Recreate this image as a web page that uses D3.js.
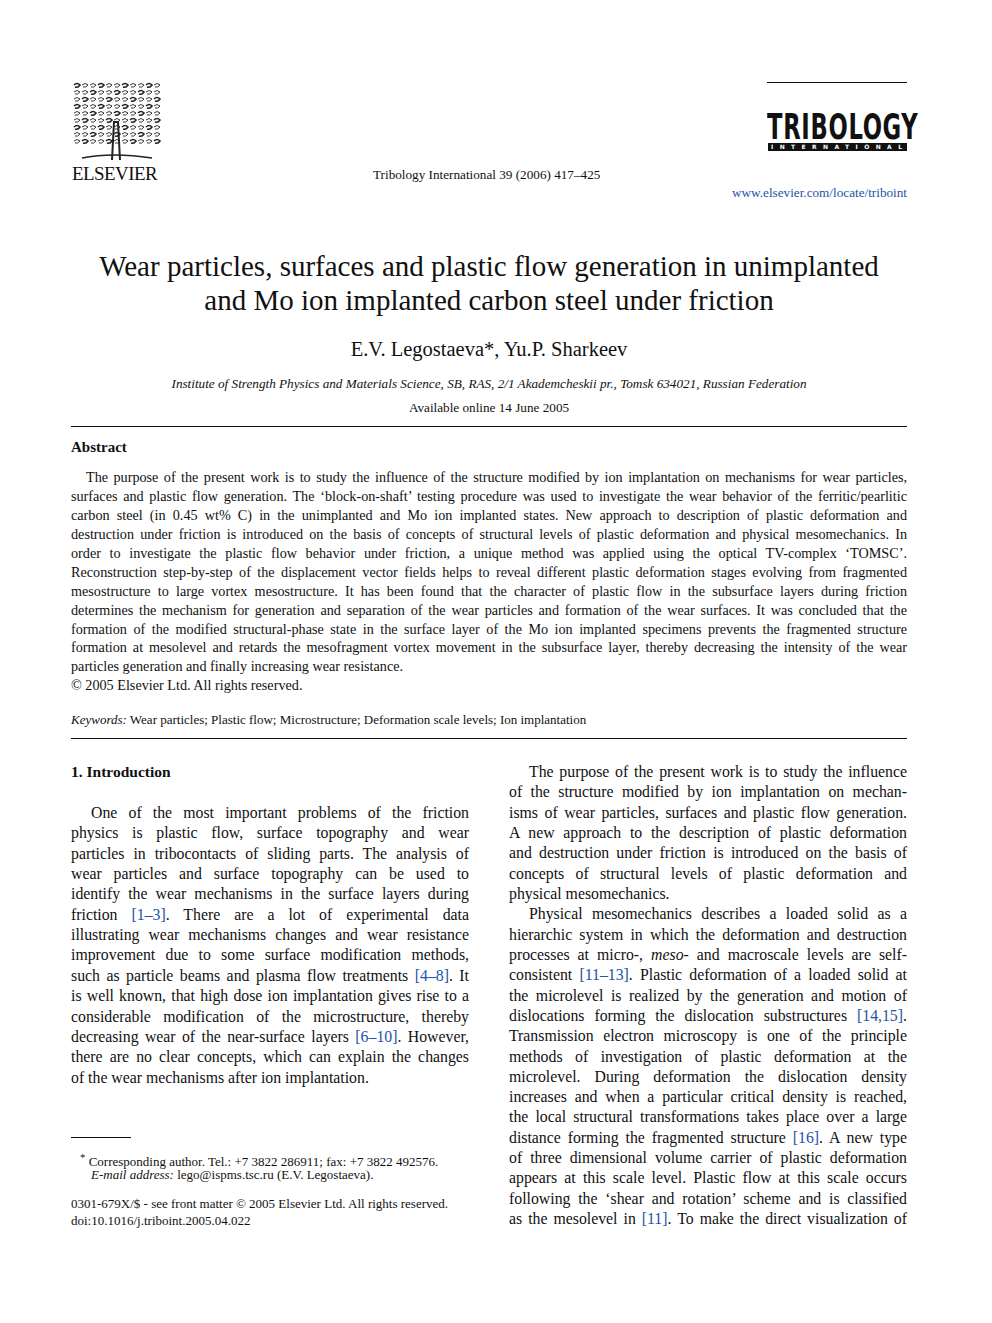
<!DOCTYPE html>
<html><head><meta charset="utf-8">
<script src="https://cdn.jsdelivr.net/npm/d3@7"></script>
<style>
body{margin:0;background:#fff;}
#page{position:relative;width:992px;height:1323px;font-family:"Liberation Serif","Times New Roman",serif;color:#111;}
.ln{position:absolute;white-space:nowrap;line-height:1;}
.j{text-align:justify;text-align-last:justify;}
a,.ref{color:#2452a8;text-decoration:none;}
</style></head><body><div id="page"></div>
<script>
// ---- text data ----
var titleLines = ["Wear particles, surfaces and plastic flow generation in unimplanted",
                  "and Mo ion implanted carbon steel under friction"];
var abstractLines = [
 "The purpose of the present work is to study the influence of the structure modified by ion implantation on mechanisms for wear particles,",
 "surfaces and plastic flow generation. The ‘block-on-shaft’ testing procedure was used to investigate the wear behavior of the ferritic/pearlitic",
 "carbon steel (in 0.45 wt% C) in the unimplanted and Mo ion implanted states. New approach to description of plastic deformation and",
 "destruction under friction is introduced on the basis of concepts of structural levels of plastic deformation and physical mesomechanics. In",
 "order to investigate the plastic flow behavior under friction, a unique method was applied using the optical TV-complex ‘TOMSC’.",
 "Reconstruction step-by-step of the displacement vector fields helps to reveal different plastic deformation stages evolving from fragmented",
 "mesostructure to large vortex mesostructure. It has been found that the character of plastic flow in the subsurface layers during friction",
 "determines the mechanism for generation and separation of the wear particles and formation of the wear surfaces. It was concluded that the",
 "formation of the modified structural-phase state in the surface layer of the Mo ion implanted specimens prevents the fragmented structure",
 "formation at mesolevel and retards the mesofragment vortex movement in the subsurface layer, thereby decreasing the intensity of the wear",
 "particles generation and finally increasing wear resistance.",
 "© 2005 Elsevier Ltd. All rights reserved."
];
var abstractIndent = [1,0,0,0,0,0,0,0,0,0,0,0];
var abstractLast = [0,0,0,0,0,0,0,0,0,0,1,1];
var leftLines = [
 "One of the most important problems of the friction",
 "physics is plastic flow, surface topography and wear",
 "particles in tribocontacts of sliding parts. The analysis of",
 "wear particles and surface topography can be used to",
 "identify the wear mechanisms in the surface layers during",
 "friction <span class='ref'>[1–3]</span>. There are a lot of experimental data",
 "illustrating wear mechanisms changes and wear resistance",
 "improvement due to some surface modification methods,",
 "such as particle beams and plasma flow treatments <span class='ref'>[4–8]</span>. It",
 "is well known, that high dose ion implantation gives rise to a",
 "considerable modification of the microstructure, thereby",
 "decreasing wear of the near-surface layers <span class='ref'>[6–10]</span>. However,",
 "there are no clear concepts, which can explain the changes",
 "of the wear mechanisms after ion implantation."
];
var leftIndent = [1,0,0,0,0,0,0,0,0,0,0,0,0,0];
var leftLast = [0,0,0,0,0,0,0,0,0,0,0,0,0,1];
var rightLines = [
 "The purpose of the present work is to study the influence",
 "of the structure modified by ion implantation on mechan-",
 "isms of wear particles, surfaces and plastic flow generation.",
 "A new approach to the description of plastic deformation",
 "and destruction under friction is introduced on the basis of",
 "concepts of structural levels of plastic deformation and",
 "physical mesomechanics.",
 "Physical mesomechanics describes a loaded solid as a",
 "hierarchic system in which the deformation and destruction",
 "processes at micro-, <i>meso</i>- and macroscale levels are self-",
 "consistent <span class='ref'>[11–13]</span>. Plastic deformation of a loaded solid at",
 "the microlevel is realized by the generation and motion of",
 "dislocations forming the dislocation substructures <span class='ref'>[14,15]</span>.",
 "Transmission electron microscopy is one of the principle",
 "methods of investigation of plastic deformation at the",
 "microlevel. During deformation the dislocation density",
 "increases and when a particular critical density is reached,",
 "the local structural transformations takes place over a large",
 "distance forming the fragmented structure <span class='ref'>[16]</span>. A new type",
 "of three dimensional volume carrier of plastic deformation",
 "appears at this scale level. Plastic flow at this scale occurs",
 "following the ‘shear and rotation’ scheme and is classified",
 "as the mesolevel in <span class='ref'>[11]</span>. To make the direct visualization of"
];
var rightIndent = rightLines.map(function(d,i){return (i==0||i==7)?1:0;});
var rightLast = rightLines.map(function(d,i){return i==6?1:0;});
var footLines = [
 "<sup>*</sup> Corresponding author. Tel.: +7 3822 286911; fax: +7 3822 492576.",
 "<i>E-mail address:</i> lego@ispms.tsc.ru (E.V. Legostaeva).",
 "0301-679X/$ - see front matter © 2005 Elsevier Ltd. All rights reserved.",
 "doi:10.1016/j.triboint.2005.04.022"
];

var page = d3.select("#page");

function block(lines, x, y0, dy, w, size, indent, last, indentPx, justify) {
  var rows = lines.map(function(t,i){return {t:t,i:i};});
  page.selectAll(null).data(rows).enter().append("div")
    .attr("class", function(d){return "ln" + (justify && !last[d.i] ? " j" : "");})
    .style("left", function(d){return (x + (indent[d.i]?indentPx:0)) + "px";})
    .style("width", function(d){return (w - (indent[d.i]?indentPx:0)) + "px";})
    .style("top", function(d){return (y0 + d.i*dy - size*0.82) + "px";})
    .style("font-size", size + "px")
    .html(function(d){return d.t;});
}
function single(t, x, y, size, opts) {
  opts = opts || {};
  var d = page.append("div").attr("class","ln")
    .style("top",(y - size*0.82)+"px").style("font-size",size+"px").html(t);
  if (opts.center) d.style("left","0px").style("width","978px").style("text-align","center");
  else if (opts.right) d.style("right",(992-x)+"px");
  else d.style("left",x+"px");
  if (opts.style) d.attr("style", d.attr("style")+";"+opts.style);
  return d;
}
function rule(x1,x2,y,h){
  page.append("div").style("position","absolute").style("left",x1+"px").style("top",y+"px")
    .style("width",(x2-x1)+"px").style("height",(h||1)+"px").style("background","#111");
}

// ---- header ----
var svg = page.append("svg").attr("width",992).attr("height",200)
  .style("position","absolute").style("left",0).style("top",0);
// Elsevier tree (simplified)
var tree = svg.append("g").attr("transform","translate(72,82)");
var g = tree.append("g").attr("fill","none").attr("stroke","#222").attr("stroke-width",1.1);
for (var r=0;r<9;r++){ for(var c=0;c<11;c++){
  g.append("path").attr("d","M"+(c*8+2)+","+(r*7+3)+"q3,-3 6,0 q-2,3 -5,2")
   .attr("stroke-width", (r+c)%3==0?1.6:0.9);
}}
g.append("path").attr("d","M40,78 L42,40 L46,40 L48,78").attr("stroke-width",2);
g.append("path").attr("d","M10,76 q30,-6 70,0").attr("stroke-width",1.5);
single("ELSEVIER",72,180,18,{style:"letter-spacing:-0.5px;transform:scaleX(1.05);transform-origin:left"});
single("Tribology International 39 (2006) 417–425",373,179,13.2);
rule(767,907,82,1);
single("TRIBOLOGY",767,139,36,{style:"font-family:'DejaVu Sans Condensed','Liberation Sans Narrow',sans-serif;font-weight:bold;letter-spacing:1px;transform:scaleX(0.7);transform-origin:left"});
page.append("div").style("position","absolute").style("left","768px").style("top","143px")
  .style("width","139px").style("height","8px").style("background","#111").style("overflow","hidden")
  .style("color","#fff").style("font","bold 6px 'DejaVu Sans',sans-serif")
  .style("letter-spacing","6.4px").style("line-height","8px").style("padding-left","3px").style("box-sizing","border-box")
  .text("INTERNATIONAL");
single("<a>www.elsevier.com/locate/triboint</a>",907,197,13.2,{right:1});

// ---- title block ----
titleLines.forEach(function(t,i){ single(t,0,276+i*34,29,{center:1}); });
single("E.V. Legostaeva*, Yu.P. Sharkeev",0,356,20.5,{center:1});
single("<i>Institute of Strength Physics and Materials Science, SB, RAS, 2/1 Akademcheskii pr., Tomsk 634021, Russian Federation</i>",0,388,13.2,{center:1});
single("Available online 14 June 2005",0,412,13.2,{center:1});
rule(71,907,426,1);

// ---- abstract ----
single("<b>Abstract</b>",71,452,15);
block(abstractLines,71,482,18.9,836,14.2,abstractIndent,abstractLast,15,true);
single("<i>Keywords:</i> Wear particles; Plastic flow; Microstructure; Deformation scale levels; Ion implantation",71,724,13);
rule(71,907,738,1);

// ---- body ----
single("<b>1. Introduction</b>",71,777,15.5);
block(leftLines,71,818,20.35,398,15.8,leftIndent,leftLast,20,true);
block(rightLines,509,777,20.32,398,15.8,rightIndent,rightLast,20,true);

// ---- footnotes ----
rule(71,131,1137,1);
single(footLines[0],80,1163,13);
single(footLines[1],91,1179,13);
single(footLines[2],71,1208,13);
single(footLines[3],71,1225,13);
</script></body></html>
